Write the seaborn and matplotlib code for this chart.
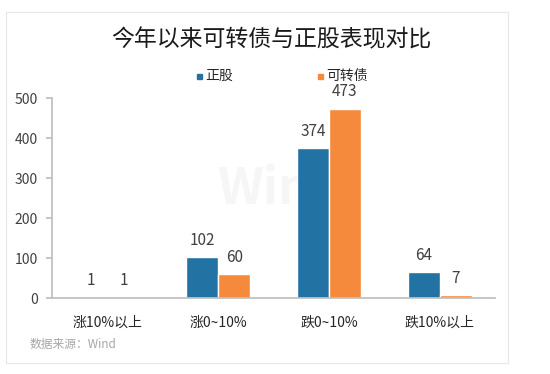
import matplotlib
matplotlib.use("Agg")
import matplotlib.pyplot as plt
import seaborn as sns
import pandas as pd
from matplotlib.patches import Rectangle

categories = ["涨10%以上", "涨0~10%", "跌0~10%", "跌10%以上"]
series_names = ["正股", "可转债"]
zhenggu = [1, 102, 374, 64]
kezhuanzhai = [1, 60, 473, 7]
yticks = [0, 100, 200, 300, 400, 500]

sns.set_theme(style="white")
plt.rcParams['font.family'] = ['Noto Sans CJK SC', 'DejaVu Sans']

df = pd.DataFrame({
    "cat": categories * 2,
    "series": [series_names[0]] * 4 + [series_names[1]] * 4,
    "val": zhenggu + kezhuanzhai,
})

colors = ["#2372A4", "#F58A3C"]
fig = plt.figure(figsize=(5.5, 3.74), dpi=100)
fig.patch.set_facecolor("white")
# card border
fig.patches.append(Rectangle((6/550, 1-363/374), 502/550, 351/374, transform=fig.transFigure,
                             fill=False, edgecolor="#E6E6E6", lw=0.8))

ax = fig.add_axes([52/550, 1-298/374, 443/550, 200/374])
ax.patch.set_alpha(0)
sns.barplot(data=df, x="cat", y="val", hue="series", palette=colors, ax=ax,
            width=0.58, saturation=1, legend=False)
ax.set_xlim(-0.5, 3.5)
ax.set_ylim(0, 500)
ax.set_yticks(yticks)
ax.set_xlabel("")
ax.set_ylabel("")
for s in ["top", "right"]:
    ax.spines[s].set_visible(False)
ax.spines["left"].set_color("#BFBFBF")
ax.spines["bottom"].set_color("#BFBFBF")
ax.tick_params(axis="y", left=True, length=4, color="#BFBFBF", labelsize=10, labelcolor="#404040", pad=6)
ax.tick_params(axis="x", bottom=False, labelsize=10, labelcolor="#262626", pad=7)

for cont in ax.containers:
    ax.bar_label(cont, labels=[str(int(v)) for v in cont.datavalues], padding=6,
                 fontsize=11, color="#404040")

# watermark
fig.text(280/550, 1-190/374, "Wind", fontsize=36, fontweight="bold", color="#F6F6F6",
         ha="center", va="center", zorder=-1)

fig.text(271/550, 1-40/374, "今年以来可转债与正股表现对比", fontsize=16.5, ha="center", va="center",
         color="#1A1A1A")
# legend
for x, name, c in [(197, series_names[0], colors[0]), (318, series_names[1], colors[1])]:
    fig.patches.append(Rectangle((x/550, 1-79/374), 5/550, 5/374, transform=fig.transFigure,
                                 color=c))
    fig.text((x + 8)/550, 1-76/374, name, fontsize=10, ha="left", va="center", color="#262626")

fig.text(30/550, 1-344/374, "数据来源：Wind", fontsize=8.5, color="#A6A6A6", ha="left", va="center")

fig.savefig("out.png", dpi=100)
